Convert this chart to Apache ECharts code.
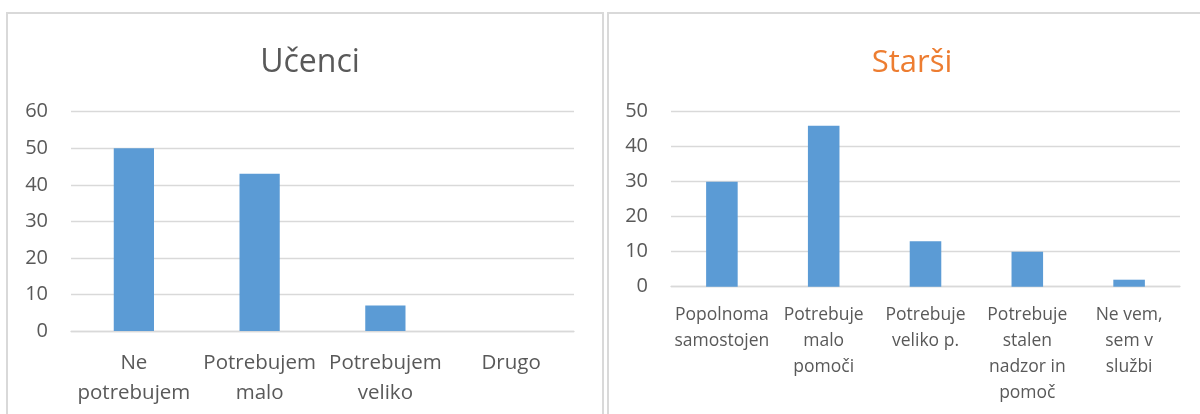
<!DOCTYPE html>
<html>
<head>
<meta charset="utf-8">
<script src="https://cdn.jsdelivr.net/npm/echarts@6/dist/echarts.min.js"></script>
<style>
html,body{margin:0;padding:0;background:#fff;}
#c{width:1200px;height:414px;}
</style>
</head>
<body>
<div id="c"></div>
<script>
// Data
const titleLeft = 'Učenci';
const titleRight = 'Starši';
const catsLeft = ['Ne\npotrebujem', 'Potrebujem\nmalo', 'Potrebujem\nveliko', 'Drugo'];
const valsLeft = [50, 43, 7, 0];
const catsRight = ['Popolnoma\nsamostojen', 'Potrebuje\nmalo\npomoči', 'Potrebuje\nveliko p.', 'Potrebuje\nstalen\nnadzor in\npomoč', 'Ne vem,\nsem v\nslužbi'];
const valsRight = [30, 46, 13, 10, 2];

const FONT = '"Open Sans", sans-serif';
const TXT = '#595959';
const GRID = '#D9D9D9';
const BAR = '#5B9BD5';

const chart = echarts.init(document.getElementById('c'), null, {renderer: 'canvas'});
chart.setOption({
  animation: false,
  title: [
    {text: titleLeft, left: 305, top: 38, textAlign: 'center',
     textStyle: {fontFamily: FONT, fontSize: 32, fontWeight: 'normal', color: TXT, lineHeight: 40}},
    {text: titleRight, left: 907, top: 38, textAlign: 'center',
     textStyle: {fontFamily: FONT, fontSize: 31, fontWeight: 'normal', color: '#ED7D31', lineHeight: 40}}
  ],
  graphic: [
    {type: 'rect', shape: {x: 7, y: 13, width: 596, height: 430},
     style: {fill: 'none', stroke: GRID, lineWidth: 2}, silent: true},
    {type: 'rect', shape: {x: 608, y: 13, width: 620, height: 430},
     style: {fill: 'none', stroke: GRID, lineWidth: 2}, silent: true}
  ],
  grid: [
    {left: 71, top: 111.7, width: 503, height: 219.3},
    {left: 671, top: 111.7, width: 509, height: 175}
  ],
  xAxis: [
    {type: 'category', gridIndex: 0, data: catsLeft,
     axisLine: {lineStyle: {color: GRID, width: 1.3}}, axisTick: {show: false},
     axisLabel: {interval: 0, margin: 17, fontFamily: FONT, fontSize: 20.5, color: TXT, lineHeight: 30}},
    {type: 'category', gridIndex: 1, data: catsRight,
     axisLine: {lineStyle: {color: GRID, width: 1.3}}, axisTick: {show: false},
     axisLabel: {interval: 0, margin: 15, fontFamily: FONT, fontSize: 17.5, color: TXT, lineHeight: 26}}
  ],
  yAxis: [
    {type: 'value', gridIndex: 0, min: 0, max: 60, interval: 10,
     axisLine: {show: false}, axisTick: {show: false},
     splitLine: {lineStyle: {color: GRID, width: 1.3}},
     axisLabel: {margin: 23, fontFamily: FONT, fontSize: 20, color: TXT}},
    {type: 'value', gridIndex: 1, min: 0, max: 50, interval: 10,
     axisLine: {show: false}, axisTick: {show: false},
     splitLine: {lineStyle: {color: GRID, width: 1.3}},
     axisLabel: {margin: 23, fontFamily: FONT, fontSize: 20, color: TXT}}
  ],
  series: [
    {type: 'bar', xAxisIndex: 0, yAxisIndex: 0, data: valsLeft, barWidth: '32%',
     itemStyle: {color: BAR}},
    {type: 'bar', xAxisIndex: 1, yAxisIndex: 1, data: valsRight, barWidth: '31%',
     itemStyle: {color: BAR}}
  ]
});
</script>
</body>
</html>
